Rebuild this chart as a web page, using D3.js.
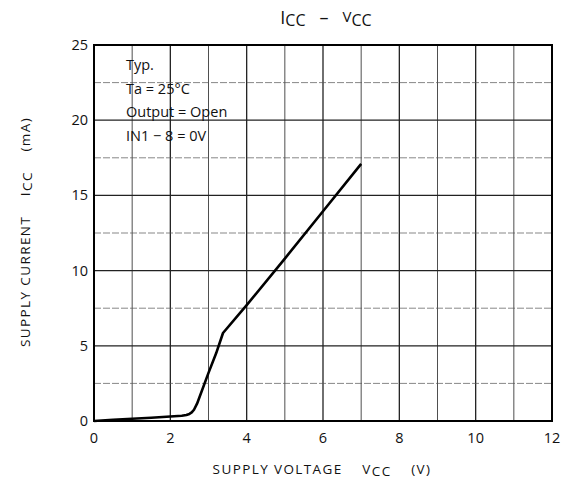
<!DOCTYPE html>
<html>
<head>
<meta charset="utf-8">
<script src="https://cdn.jsdelivr.net/npm/d3@7"></script>
<style>
  body { margin: 0; background: #fff; }
  text { font-family: "Open Sans", "DejaVu Sans", sans-serif; fill: #111; white-space: pre; }
</style>
</head>
<body>
<svg id="chart" width="564" height="492"></svg>
<script>
// curve
const vcc = [0, 0.5, 1, 1.5, 2, 2.3, 2.42, 2.5, 2.56, 2.62, 2.7, 3.0, 3.2, 3.38, 4, 5, 6, 7];
const icc = [0, 0.08, 0.15, 0.22, 0.3, 0.35, 0.4, 0.47, 0.57, 0.75, 1.15, 3.2, 4.5, 5.85, 7.7, 10.8, 13.95, 17.1];
const xTicks = [0, 2, 4, 6, 8, 10, 12];
const yTicks = [0, 5, 10, 15, 20, 25];
const notes = ["Typ.", "Ta = 25°C", "Output = Open", "IN1 − 8 = 0V"];

const margin = { top: 45, right: 12, bottom: 71, left: 94 };
const width = 564 - margin.left - margin.right,
  height = 492 - margin.top - margin.bottom;

const svg = d3.select("#chart");
const g = svg.append("g").attr("transform", "translate(" + margin.left + "," + margin.top + ")");

const x = d3.scaleLinear().domain([0, 12]).range([0, width]);
const y = d3.scaleLinear().domain([0, 25]).range([height, 0]);

// grid: every 1 V and every 2.5 mA
g.selectAll(".vgrid")
  .data(d3.range(1, 12))
  .enter()
  .append("line")
  .attr("x1", d => x(d)).attr("x2", d => x(d))
  .attr("y1", 0).attr("y2", height)
  .attr("stroke", "#222")
  .attr("stroke-width", d => (d % 2 === 0 ? 1.3 : 0.8));

g.selectAll(".hgrid")
  .data(d3.range(2.5, 25, 2.5))
  .enter()
  .append("line")
  .attr("x1", 0).attr("x2", width)
  .attr("y1", d => y(d)).attr("y2", d => y(d))
  .attr("stroke", d => (d % 5 === 0 ? "#222" : "#555"))
  .attr("stroke-width", d => (d % 5 === 0 ? 1.3 : 0.7))
  .attr("stroke-dasharray", d => (d % 5 === 0 ? null : "7,2"));

// frame
g.append("rect")
  .attr("width", width).attr("height", height)
  .attr("fill", "none").attr("stroke", "#000").attr("stroke-width", 2);

// tick labels
g.selectAll(".xt")
  .data(xTicks)
  .enter()
  .append("text")
  .attr("x", d => x(d)).attr("y", height + 22)
  .attr("text-anchor", "middle")
  .attr("font-size", 14.5)
  .text(d => d);

g.selectAll(".yt")
  .data(yTicks)
  .enter()
  .append("text")
  .attr("x", -6).attr("y", d => y(d) + 5)
  .attr("text-anchor", "end")
  .attr("font-size", 14.5)
  .text(d => d);

// curve
const line = d3.line()
  .x((d, i) => x(vcc[i]))
  .y(d => y(d));

g.append("path")
  .datum(icc)
  .attr("fill", "none")
  .attr("stroke", "#000")
  .attr("stroke-width", 2.6)
  .attr("stroke-linejoin", "round")
  .attr("d", line);

// conditions
g.selectAll(".note")
  .data(notes)
  .enter()
  .append("text")
  .attr("x", 32).attr("y", (d, i) => 25 + i * 23.5)
  .attr("font-size", 14.5)
  .text(d => d);

// title
const title = svg.append("text")
  .attr("x", 326).attr("y", 24)
  .attr("text-anchor", "middle")
  .attr("font-size", 18);
title.append("tspan").text("I");
title.append("tspan").attr("font-size", 16).attr("dy", 2).text("CC");
title.append("tspan").attr("dy", -2).text("   –   ");
title.append("tspan").attr("font-size", 15).attr("dy", -2).text("V");
title.append("tspan").attr("font-size", 16).attr("dy", 4).text("CC");

// x axis label
const xl = svg.append("text")
  .attr("x", 322).attr("y", 474)
  .attr("text-anchor", "middle")
  .attr("font-size", 13.5)
  .attr("letter-spacing", 1.4);
xl.append("tspan").text("SUPPLY VOLTAGE    V");
xl.append("tspan").attr("dy", 2).text("CC");
xl.append("tspan").attr("dy", -2).text("    (V)");

// y axis label
const yl = svg.append("text")
  .attr("transform", "translate(30,232) rotate(-90)")
  .attr("text-anchor", "middle")
  .attr("font-size", 13.5)
  .attr("letter-spacing", 1.4);
yl.append("tspan").text("SUPPLY CURRENT    I");
yl.append("tspan").attr("dy", 2).text("CC");
yl.append("tspan").attr("dy", -2).text("    (mA)");
</script>
</body>
</html>
